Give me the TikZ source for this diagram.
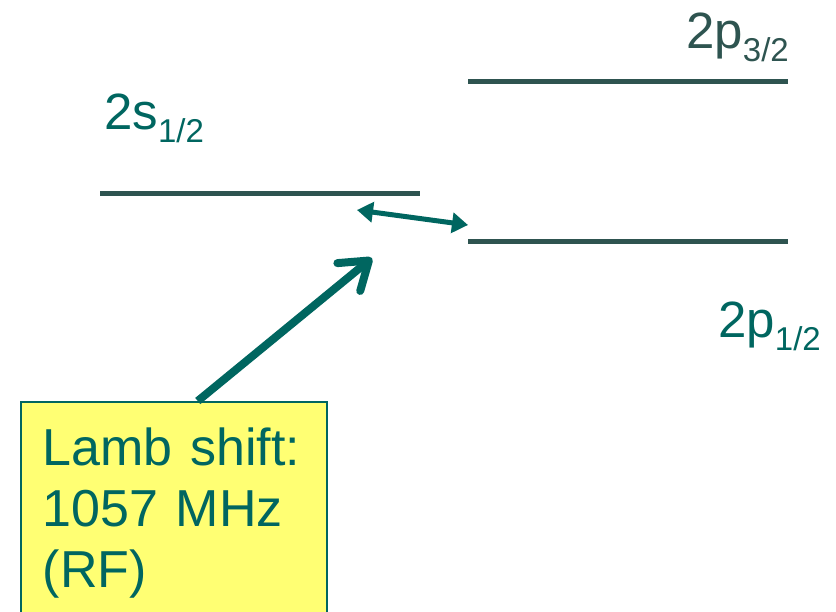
\documentclass[tikz,border=0pt]{standalone}
\usepackage{fontspec}
\setmainfont{Liberation Sans}
\usepackage{tikz}
\usetikzlibrary{arrows.meta, positioning, calc}
\definecolor{levelcol}{HTML}{2E5450}
\definecolor{tealtext}{HTML}{006660}
\definecolor{notebg}{HTML}{FFFF73}
\newcommand{\lvl}[2]{#1\raisebox{-13pt}{\fontsize{33}{33}\selectfont #2}}

\begin{document}
\begin{tikzpicture}[x=1pt, y=-1pt,
  level/.style={levelcol, line width=5pt},
  lvllabel/.style={inner sep=0pt, font=\fontsize{51}{51}\selectfont},
  notebox/.style={draw=tealtext, line width=1.5pt, fill=notebg, text=tealtext,
    anchor=north west, align=left, text width=262pt, inner xsep=22pt, inner ysep=26pt,
    font=\fontsize{52}{61}\selectfont}]
  \useasboundingbox (0,0) rectangle (836,611);

  % energy levels
  \draw[level] (100,193) -- (420,193);
  \draw[level] (468,81) -- (788,81);
  \draw[level] (468,241) -- (788,241);

  \node[lvllabel, anchor=base west, text=tealtext] (s12) at (104,129) {\lvl{2s}{1/2}};
  \node[lvllabel, anchor=base east, text=levelcol] (p32) at (789,48) {\lvl{2p}{3/2}};
  \node[lvllabel, anchor=base east, text=tealtext] (p12) at (821,337) {\lvl{2p}{1/2}};

  % splitting
  \coordinate (sgap) at (357,210);
  \coordinate (pgap) at (468,225);
  \draw[tealtext, line width=5pt, {Triangle[length=16pt,width=20pt]}-{Triangle[length=16pt,width=20pt]}] (sgap) -- (pgap);

  \node[notebox] (lamb) at (20,401) {Lamb shift:\\1057 MHz\\(RF)};
  \coordinate (rf) at (372,258);
  \draw[tealtext, line width=8pt, -{Straight Barb[length=26pt,width=36pt,round]}]
    ($(lamb.north west)!0.578!(lamb.north east)$) -- (rf);
\end{tikzpicture}
\end{document}
